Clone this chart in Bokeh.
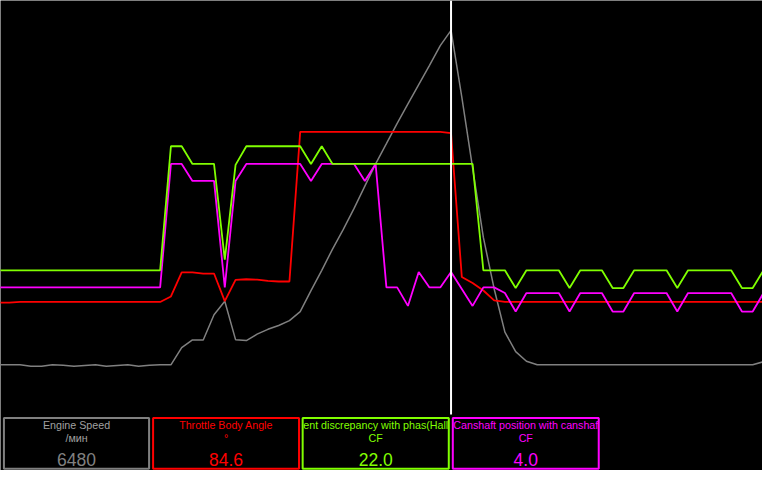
from bokeh.plotting import figure
from bokeh.models import Range1d, ColumnDataSource
from bokeh.embed import file_html
from bokeh.resources import INLINE
from bokeh.core.properties import value
import numpy as np

# ---------------- data (one sample every 0.1 s) ----------------
time_s = np.round(np.arange(-1, 71) * 0.1, 1)

engine_speed = [872, 872, 872, 846, 846, 872, 866, 846, 859, 872, 846, 859, 872, 846, 866, 872,
                872, 1159, 1289, 1289, 1710, 1937, 1294, 1278, 1386, 1467, 1532, 1613, 1764,
                2116, 2456, 2813, 3142, 3494, 3867, 4240, 4580, 4921, 5245, 5569, 5894, 6223,
                6480, 5359, 4175, 3008, 2148, 1419, 1094, 932, 872,
                872, 872, 872, 872, 872, 872, 872, 872, 872, 872,
                872, 872, 872, 872, 872, 872, 872, 872, 872, 872, 924]

throttle = [1.7, 1.7, 2.0] + [2.0] * 13 + [4.7, 16.5, 16.5, 15.9, 15.9, 2.4,
            12.8, 13.1, 12.9, 12.3, 12.0, 12.0, 85.2] + [85.2] * 13 + [84.6, 14.2, 11.3, 7.6, 2.8] + [2.0] * 25

cam_discrepancy = ([10.0] * 16 + [24.0, 24.0, 22.0, 22.0, 22.0, 11.2, 21.9] + [24.0] * 6 +
                   [22.0, 24.0] + [22.0] * 14 + [10.0, 10.0, 10.0, 8.0] + [10.0] * 4 + [8.0] +
                   [10.0] * 3 + [8.0, 8.0] + [10.0] * 4 + [8.0] + [10.0] * 5 + [8.0, 8.0, 10.0])

cam_position = ([1.0] * 16 + [25.0, 25.0, 21.7, 21.7, 21.7, 1.0, 21.7] + [25.0] * 6 + [21.7] +
                [25.0] * 4 + [21.7, 25.0, 1.0, 1.0, -2.6, 4.0, 1.0, 1.0, 4.0, 0.7, -2.6, 1.0, 1.0,
                -0.1, -3.7] + [-0.1] * 4 + [-3.7] + [-0.1] * 3 + [-3.7, -3.7] + [-0.1] * 4 + [-3.7] +
                [-0.1] * 5 + [-3.7, -3.7, -0.1])

cursor_index = 42  # t = 4.1 s

channel_labels = ["Engine Speed", "Throttle Body Angle",
                  "ent discrepancy with phas(Hall", "Canshaft position with canshaf"]
channel_units = ["/мин", "°", "CF", "CF"]
channel_colors = ["#808080", "#ff0000", "#80ff00", "#ff00ff"]
label_colors = ["#a0a0a0", "#ff0000", "#80ff00", "#ff00ff"]
channel_values = [f"{engine_speed[cursor_index]:.0f}", f"{throttle[cursor_index]:.1f}",
                  f"{cam_discrepancy[cursor_index]:.1f}", f"{cam_position[cursor_index]:.1f}"]

# ---------------- figure ----------------
p = figure(width=762, height=470, output_backend="svg", toolbar_location=None,
           x_range=Range1d(-0.0818, 6.9909), y_range=Range1d(486, 0),
           x_axis_location=None, y_axis_location=None, min_border=0,
           background_fill_color="black", border_fill_color="black",
           outline_line_color=None)
p.xgrid.visible = False
p.ygrid.visible = False

p.extra_x_ranges = {"px": Range1d(0, 778)}
p.extra_y_ranges = {
    "rpm": Range1d(-900, 6980),
    "thr": Range1d(-80.4, 149.4),
    "grn": Range1d(-12.58, 40.44),
    "mag": Range1d(-34.6, 56.78),
}

src = ColumnDataSource(dict(t=time_s, rpm=engine_speed, thr=throttle,
                            grn=cam_discrepancy, mag=cam_position))

p.line("t", "rpm", source=src, y_range_name="rpm", line_color=channel_colors[0], line_width=1.5)
p.line("t", "thr", source=src, y_range_name="thr", line_color=channel_colors[1], line_width=1.8)
p.line("t", "mag", source=src, y_range_name="mag", line_color=channel_colors[3], line_width=1.8)
p.line("t", "grn", source=src, y_range_name="grn", line_color=channel_colors[2], line_width=1.8)

# cursor
ct = float(time_s[cursor_index])
p.segment(x0=[ct], y0=[0], x1=[ct], y1=[428], line_color="white", line_width=2)

# value boxes
lefts = [3.5, 155.8, 308.5, 461.8]
rights = [151.7, 304.8, 457.7, 610.8]
centers = [(a + b) / 2 for a, b in zip(lefts, rights)]
p.quad(left=lefts, right=rights, top=[431.7] * 4, bottom=[484.3] * 4,
       x_range_name="px", fill_color="black", line_color=channel_colors, line_width=2)

font = value("Liberation Sans")
p.text(x=centers, y=[439] * 4, text=channel_labels, x_range_name="px",
       text_color=label_colors, text_font=font, text_font_size="10.7px",
       text_align="center", text_baseline="alphabetic")
p.text(x=centers, y=[452.7] * 4, text=channel_units, x_range_name="px",
       text_color=label_colors, text_font=font, text_font_size="10.7px",
       text_align="center", text_baseline="alphabetic")
p.text(x=centers, y=[474.5] * 4, text=channel_values, x_range_name="px",
       text_color=channel_colors, text_font=font, text_font_size="17.5px",
       text_align="center", text_baseline="alphabetic")

open("out.html", "w").write(file_html(p, INLINE))
